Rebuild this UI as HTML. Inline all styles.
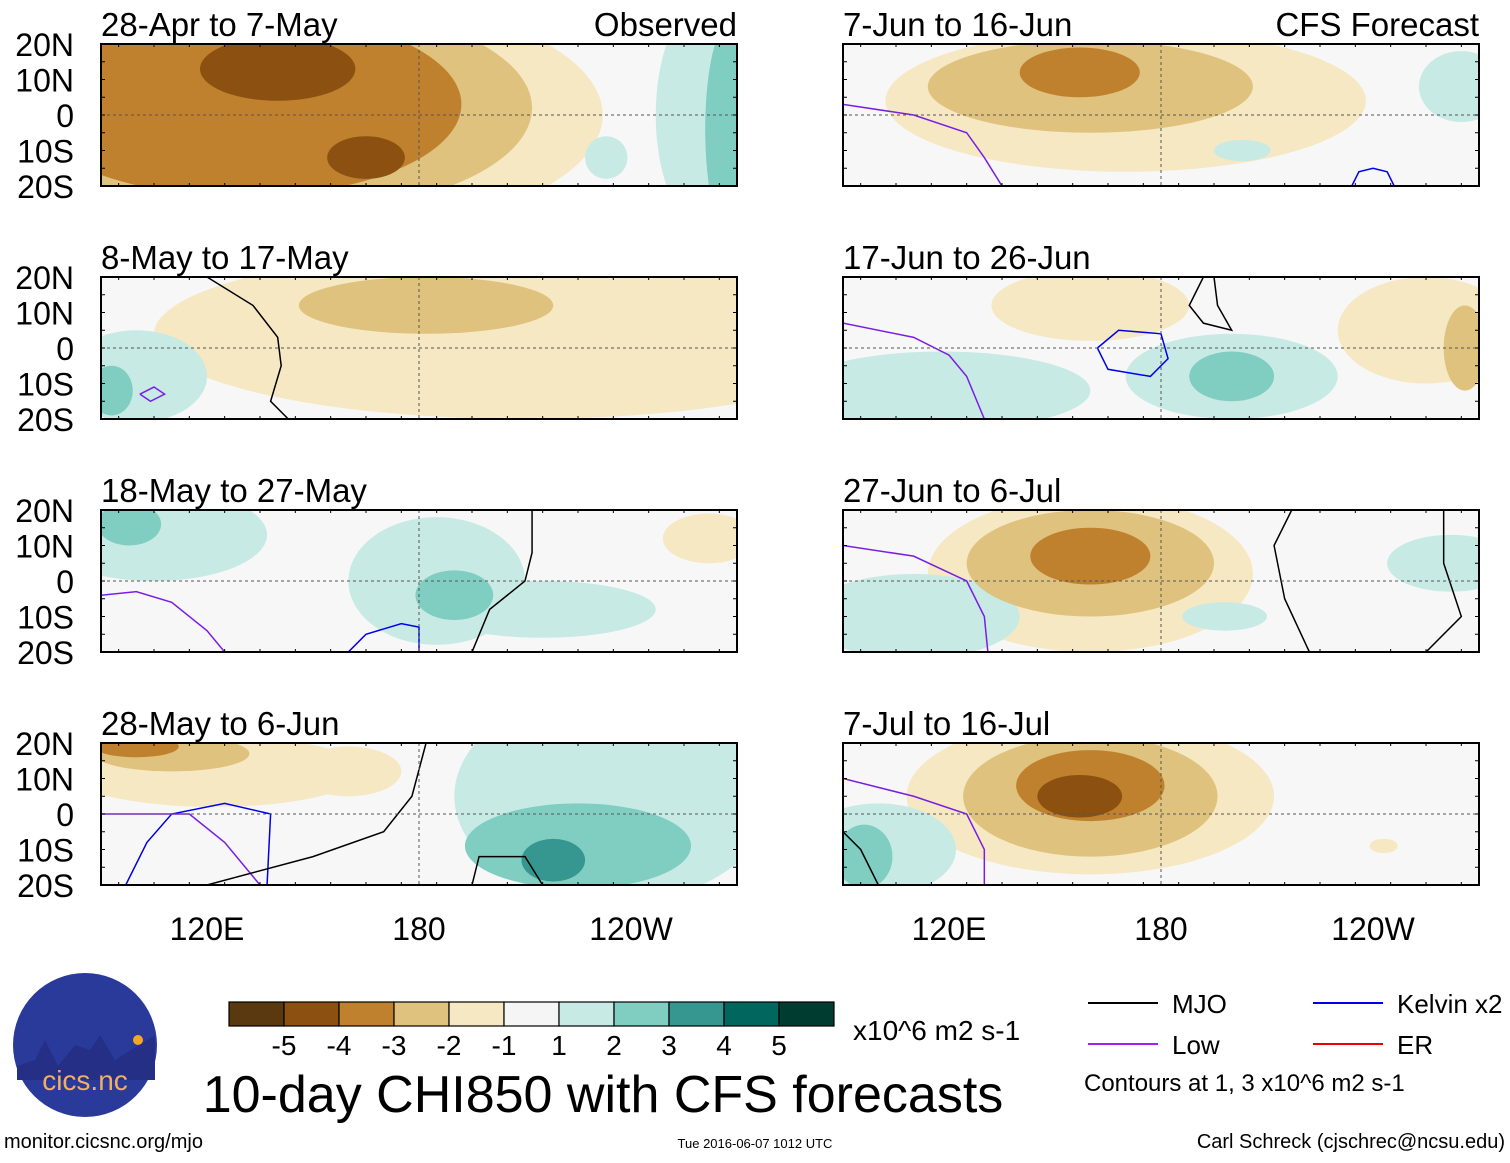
<!DOCTYPE html>
<html><head><meta charset="utf-8"><style>
body{margin:0;background:#fff;font-family:"Liberation Sans",sans-serif}
svg text{font-family:"Liberation Sans",sans-serif}
</style></head><body>
<svg id="c" width="1510" height="1158" viewBox="0 0 1510 1158" xmlns="http://www.w3.org/2000/svg"></svg>
<script>
const levels=[-5,-4,-3,-2,-1,1,2,3,4,5];
const levelColors=["#5a3810","#8c5110","#bf812d","#dfc27d","#f6e8c3","#c7eae5","#80cdc1","#35978f","#01665e","#003c30"];
const panelTitles=["28-Apr to 7-May","7-Jun to 16-Jun","8-May to 17-May","17-Jun to 26-Jun","18-May to 27-May","27-Jun to 6-Jul","28-May to 6-Jun","7-Jul to 16-Jul"];
const latTicks=["20N","10N","0","10S","20S"];
const lonTickLabels=["120E","180","120W"];
const lonTicks=[120,180,240];
// blobs: [level, lon, lat, rxDeg, ryDeg]
const blobs1=[[-1,150,0,82,34],[-2,140,2,72,30],[-3,130,3,62,26],[-4,140,13,22,9],[-4,165,-12,11,6],[1,263,0,16,34],[1,233,-12,6,6],[2,268,-4,7,30]];
const blobs2=[[-1,170,4,68,20],[-2,160,8,46,13],[-3,157,12,17,7],[1,265,8,12,10],[1,203,-10,8,3]];
const blobs3=[[-1,210,4,105,24],[-2,182,12,36,8],[1,100,-8,20,13],[2,93,-12,6,7]];
const blobs4=[[-1,160,12,28,10],[-1,255,5,25,15],[-2,266,0,6,12],[1,118,-12,42,11],[1,200,-8,30,12],[2,200,-8,12,7]];
const blobs5=[[1,105,13,32,13],[2,98,16,9,6],[1,185,0,25,18],[1,215,-8,32,8],[2,190,-4,11,7],[-1,262,12,13,7]];
const blobs6=[[-1,160,2,46,22],[-2,160,5,35,15],[-3,160,7,17,8],[1,110,-10,30,12],[1,262,5,18,8],[1,198,-10,12,4]];
const blobs7=[[-1,122,12,42,10],[-2,110,17,22,5],[-3,100,19,12,3],[-1,160,12,15,7],[1,235,5,45,30],[2,225,-9,32,12],[3,218,-13,9,6],[1,252,15,20,8]];
const blobs8=[[-1,160,5,52,22],[-2,160,5,36,17],[-3,160,8,21,10],[-4,157,5,12,6],[1,100,-10,22,13],[2,96,-12,8,9],[-1,243,-9,4,2]];
const panelBlobs=[blobs1,blobs2,blobs3,blobs4,blobs5,blobs6,blobs7,blobs8];
// contour lines: [panel, color, [[lon,lat],...]]
const contours=[
 [1,"#7a1ee6",[[90,3],[110,0],[125,-5],[130,-12],[135,-20]]],
 [1,"#0000ee",[[234,-20],[236,-16],[240,-15],[244,-16],[246,-20]]],
 [2,"#000",[[120,20],[133,12],[140,3],[141,-5],[138,-15],[143,-20]]],
 [2,"#7a1ee6",[[101,-13],[105,-11],[108,-13],[104,-15],[101,-13]]],
 [3,"#7a1ee6",[[90,7],[110,3],[120,-2],[125,-8],[130,-20]]],
 [3,"#0000ee",[[162,0],[168,5],[180,4],[182,-3],[177,-8],[165,-6],[162,0]]],
 [3,"#000",[[192,20],[188,12],[192,7],[200,5],[196,12],[195,20]]],
 [4,"#7a1ee6",[[90,-4],[100,-3],[110,-6],[120,-14],[125,-20]]],
 [4,"#0000ee",[[160,-20],[165,-15],[175,-12],[180,-13],[180,-20]]],
 [4,"#000",[[212,20],[212,8],[210,0],[200,-8],[195,-20]]],
 [5,"#7a1ee6",[[90,10],[110,7],[125,0],[130,-10],[131,-20]]],
 [5,"#000",[[217,20],[212,10],[215,-5],[222,-20]]],
 [5,"#000",[[260,20],[260,5],[265,-10],[255,-20]]],
 [6,"#0000ee",[[97,-20],[103,-8],[110,0],[125,3],[138,0],[137,-20]]],
 [6,"#7a1ee6",[[90,0],[115,0],[125,-8],[135,-20]]],
 [6,"#000",[[120,-20],[150,-12],[170,-5],[178,5],[182,20]]],
 [6,"#000",[[195,-20],[197,-12],[210,-12],[215,-20]]],
 [7,"#7a1ee6",[[90,10],[110,5],[125,0],[130,-10],[130,-20]]],
 [7,"#000",[[90,-5],[95,-10],[100,-20]]]
];
const NS="http://www.w3.org/2000/svg";
const svg=document.getElementById('c');
function el(t,a,p){const e=document.createElementNS(NS,t);for(const k in a)e.setAttribute(k,a[k]);(p||svg).appendChild(e);return e;}
const colX=[101,843], rowY=[44,277,510,743], PW=636, PH=142;
function xs(col,lon){return colX[col]+(lon-90)*PW/180;}
function ys(row,lat){return rowY[row]+(20-lat)*PH/40;}
const defs=el('defs',{});
for(let p=0;p<8;p++){
 const col=p%2,row=Math.floor(p/2);
 const cp=el('clipPath',{id:'cp'+p},defs);
 el('rect',{x:colX[col],y:rowY[row],width:PW,height:PH},cp);
 const g=el('g',{'clip-path':'url(#cp'+p+')'});
 
 
 el('rect',{x:colX[col],y:rowY[row],width:PW,height:PH,fill:'#f7f7f7'},g);
 const bl=panelBlobs[p].slice().sort((a,b)=>Math.abs(a[0])-Math.abs(b[0]));
 bl.forEach(b=>{
  const e=el('ellipse',{cx:xs(col,b[1]),cy:ys(row,b[2]),rx:b[3]*PW/180,ry:b[4]*PH/40,fill:levelColors[levels.indexOf(b[0])]},g);
  
  
 });
 contours.filter(c=>c[0]===p).forEach(c=>{
  const l=el('polyline',{points:c[2].map(q=>xs(col,q[0])+','+ys(row,q[1])).join(' '),fill:'none',stroke:c[1],'stroke-width':1.5},g);
  
  
 });
 el('line',{x1:colX[col],x2:colX[col]+PW,y1:ys(row,0),y2:ys(row,0),stroke:'#555','stroke-dasharray':'3,3','stroke-width':1},g);
 el('line',{x1:xs(col,180),x2:xs(col,180),y1:rowY[row],y2:rowY[row]+PH,stroke:'#555','stroke-dasharray':'3,3','stroke-width':1},g);
 const fr=el('rect',{x:colX[col],y:rowY[row],width:PW,height:PH,fill:'none',stroke:'#000','stroke-width':2});
 
 
 for(let lon=95;lon<270;lon+=10){const x=xs(col,lon);const L=(lon%60===0)?6:3;
  el('line',{x1:x,x2:x,y1:rowY[row],y2:rowY[row]+L,stroke:'#000'});el('line',{x1:x,x2:x,y1:rowY[row]+PH,y2:rowY[row]+PH-L,stroke:'#000'});}
 for(let lat=-15;lat<20;lat+=5){const y=ys(row,lat);
  el('line',{x1:colX[col],x2:colX[col]+4,y1:y,y2:y,stroke:'#000'});el('line',{x1:colX[col]+PW,x2:colX[col]+PW-4,y1:y,y2:y,stroke:'#000'});}
 const t=el('text',{x:colX[col],y:rowY[row]-8,'font-size':33});t.textContent=panelTitles[p];
 
 
 if(col===0){latTicks.forEach((s,i)=>{const tt=el('text',{x:74,y:rowY[row]+i*PH/4+12,'font-size':32,'text-anchor':'end'});tt.textContent=s;
  
  });}
}
let t=el('text',{x:737,y:36,'font-size':33,'text-anchor':'end'});t.textContent='Observed';


t=el('text',{x:1479,y:36,'font-size':33,'text-anchor':'end'});t.textContent='CFS Forecast';


[0,1].forEach(col=>lonTicks.forEach((lon,i)=>{const tt=el('text',{x:xs(col,lon),y:940,'font-size':32,'text-anchor':'middle'});tt.textContent=lonTickLabels[i];
 
 }));
// colorbar
const cbColors=["#5a3810","#8c5110","#bf812d","#dfc27d","#f6e8c3","#f5f5f5","#c7eae5","#80cdc1","#35978f","#01665e","#003c30"];
cbColors.forEach((c,i)=>{const r=el('rect',{x:229+i*55,y:1002,width:55,height:24,fill:c,stroke:'#000','stroke-width':1.2});
 
 });
levels.forEach((v,i)=>{const tt=el('text',{x:284+i*55,y:1055,'font-size':28,'text-anchor':'middle'});tt.textContent=String(v);
 
 });
t=el('text',{x:853,y:1040,'font-size':28});t.textContent='x10^6 m2 s-1';


t=el('text',{x:603,y:1112,'font-size':52,'text-anchor':'middle'});t.textContent='10-day CHI850 with CFS forecasts';


// legend
const legItems=[["MJO","#000",1088,1003],["Kelvin x2","#0000ee",1313,1003],["Low","#a020f0",1088,1044],["ER","#ee0000",1313,1044]];
legItems.forEach(l=>{el('line',{x1:l[2],x2:l[2]+70,y1:l[3],y2:l[3],stroke:l[1],'stroke-width':2});
 const tt=el('text',{x:l[2]+84,y:l[3]+10,'font-size':26});tt.textContent=l[0];
 
 });
t=el('text',{x:1084,y:1091,'font-size':24});t.textContent='Contours at 1, 3 x10^6 m2 s-1';


// logo
const lg=el('g',{});


el('circle',{cx:85,cy:1045,r:72,fill:'#2a3a9a'},lg);
el('path',{d:'M17,1066 L35,1060 L45,1040 L58,1066 L75,1045 L90,1050 L100,1035 L115,1060 L155,1035 L155,1080 L17,1080Z',fill:'#262f86'},lg);
el('circle',{cx:138,cy:1040,r:5,fill:'#f5a623'},lg);
t=el('text',{x:85,y:1090,'font-size':28,fill:'#f0b060','text-anchor':'middle'},lg);t.textContent='cics.nc';
t=el('text',{x:4,y:1148,'font-size':20});t.textContent='monitor.cicsnc.org/mjo';


t=el('text',{x:755,y:1148,'font-size':13,'text-anchor':'middle'});t.textContent='Tue 2016-06-07 1012 UTC';


t=el('text',{x:1505,y:1148,'font-size':20,'text-anchor':'end'});t.textContent='Carl Schreck (cjschrec@ncsu.edu)';


</script>
</body></html>
